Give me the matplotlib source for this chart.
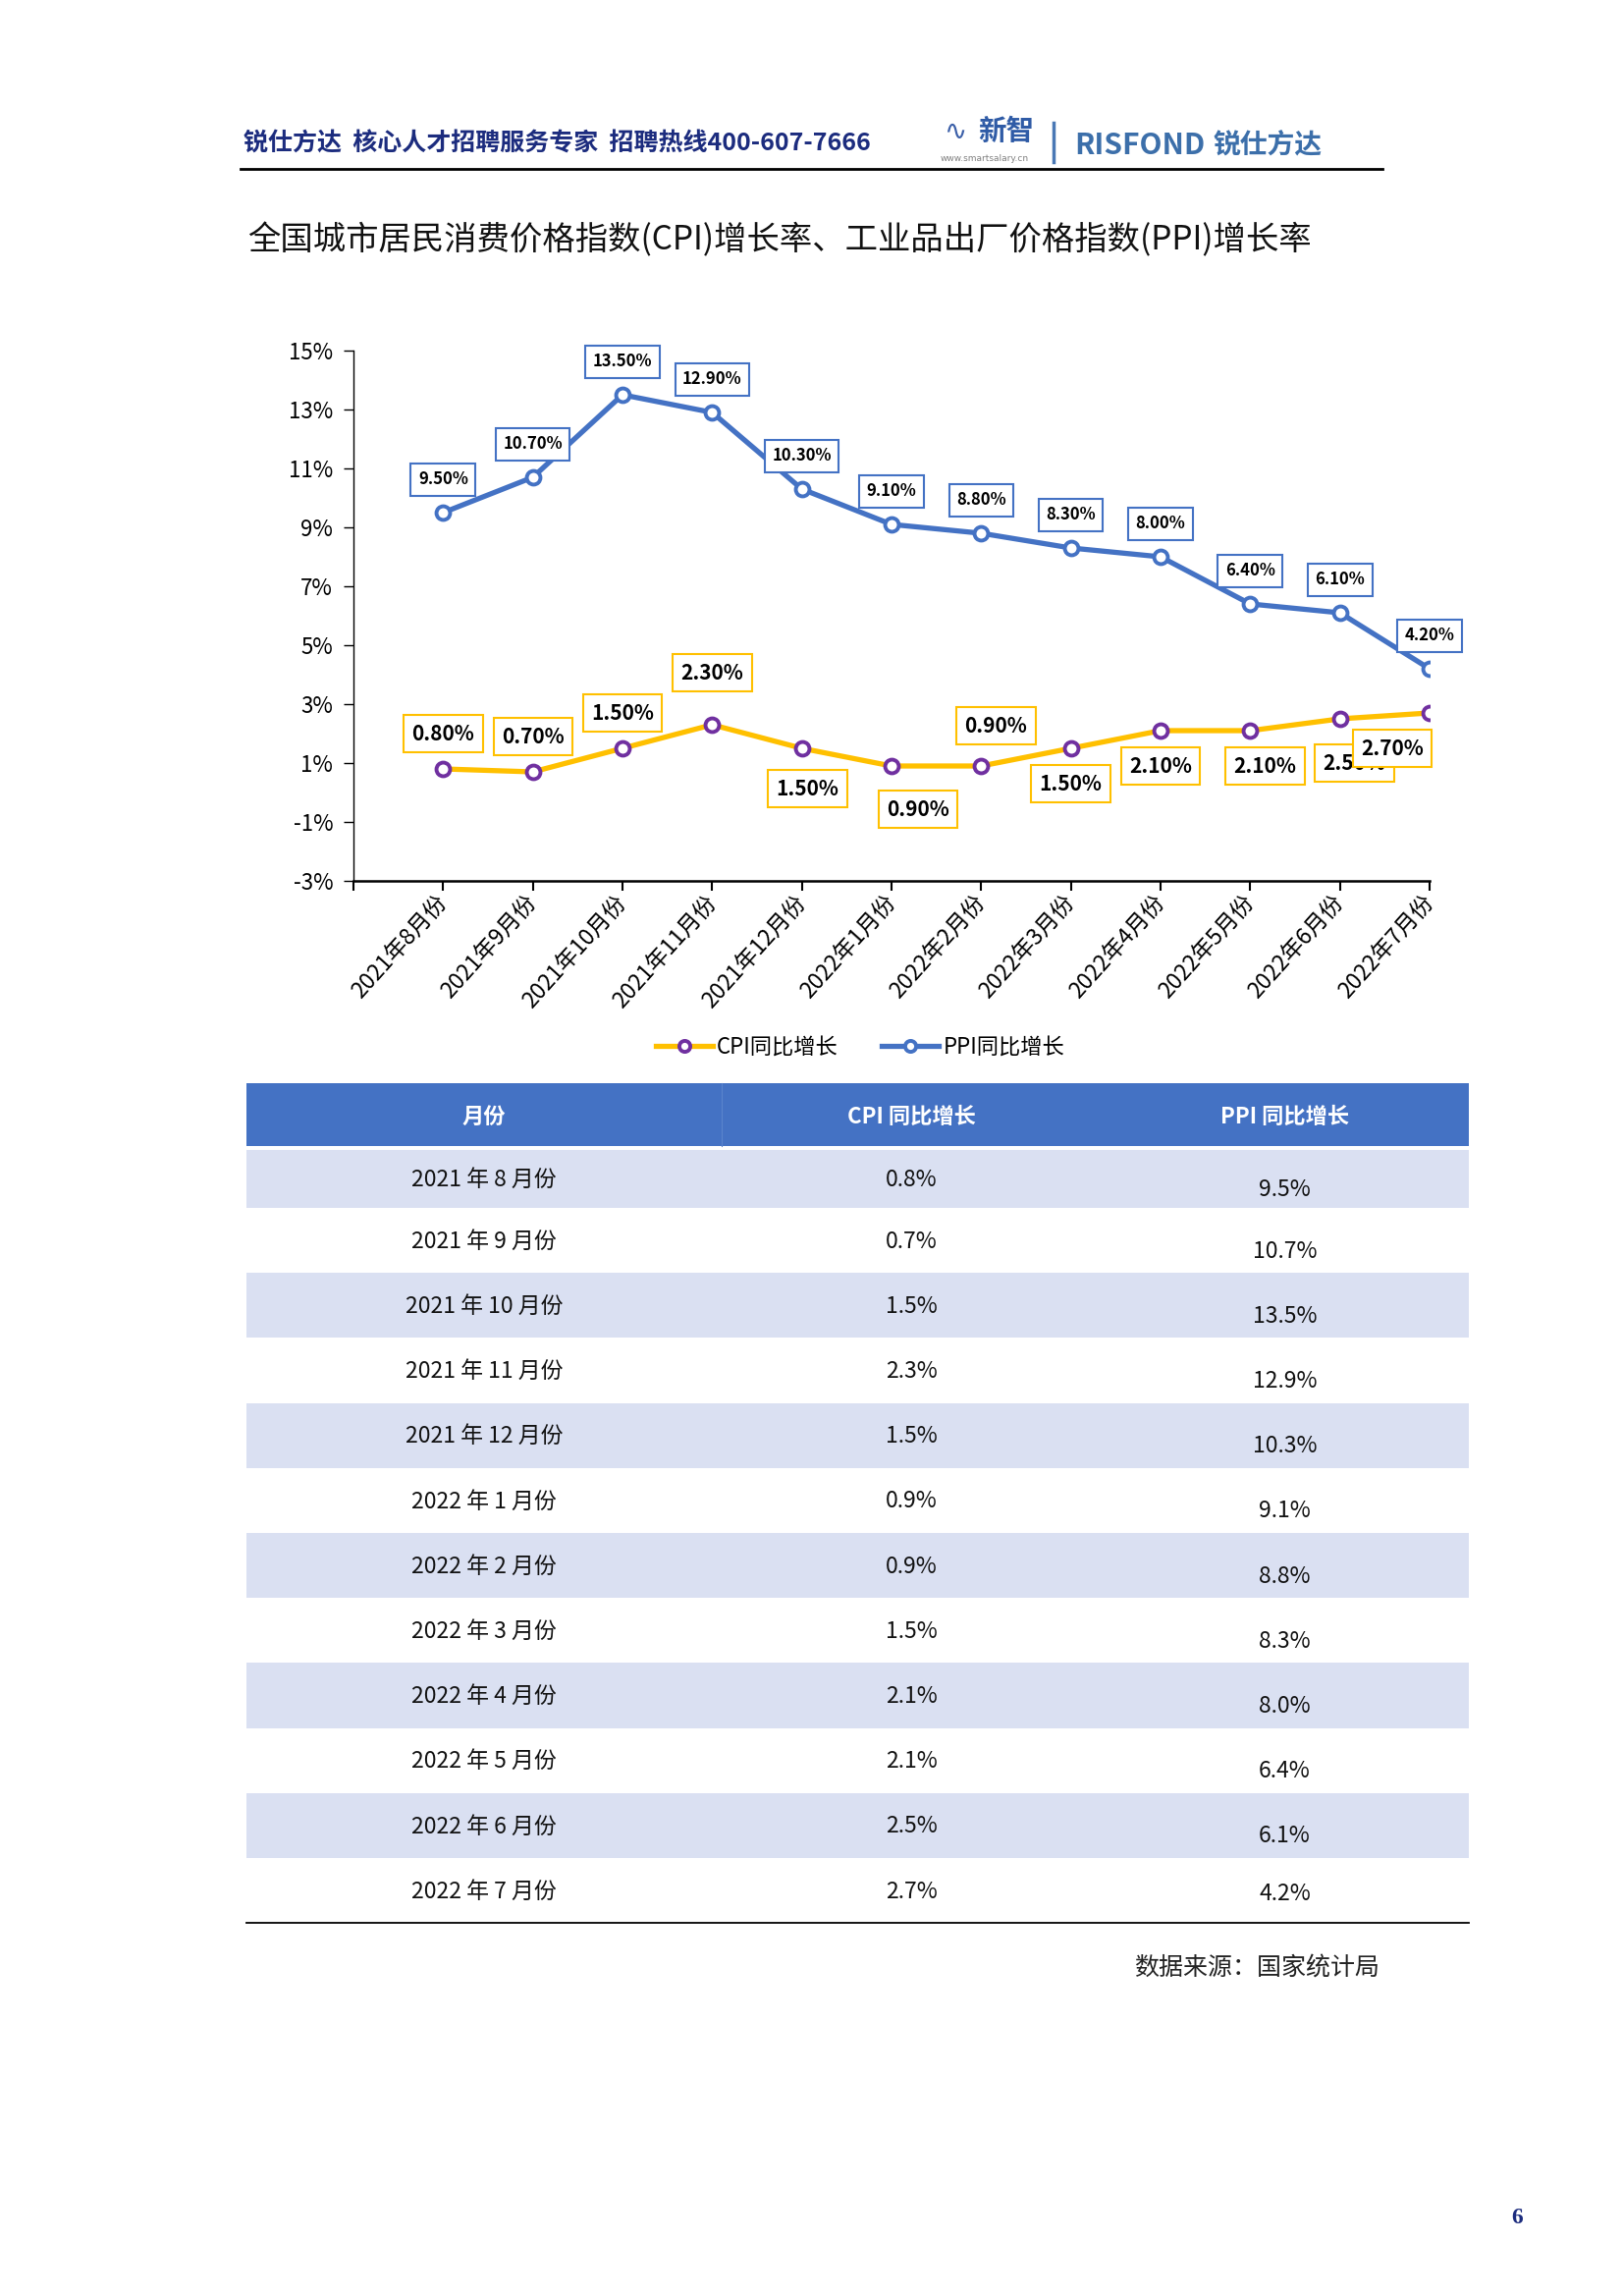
import matplotlib
matplotlib.use("Agg")
import matplotlib.pyplot as plt
from matplotlib.lines import Line2D
from matplotlib.patches import Rectangle

plt.rcParams['font.family'] = ['Noto Sans CJK SC', 'DejaVu Sans']

# ---------------- data ----------------
months = ['2021年8月份', '2021年9月份', '2021年10月份', '2021年11月份', '2021年12月份',
          '2022年1月份', '2022年2月份', '2022年3月份', '2022年4月份', '2022年5月份',
          '2022年6月份', '2022年7月份']
cpi = [0.8, 0.7, 1.5, 2.3, 1.5, 0.9, 0.9, 1.5, 2.1, 2.1, 2.5, 2.7]
ppi = [9.5, 10.7, 13.5, 12.9, 10.3, 9.1, 8.8, 8.3, 8.0, 6.4, 6.1, 4.2]
yticks = [-3, -1, 1, 3, 5, 7, 9, 11, 13, 15]
series_names = ['CPI同比增长', 'PPI同比增长']
table_header = ['月份', 'CPI 同比增长', 'PPI 同比增长']

title = '全国城市居民消费价格指数(CPI)增长率、工业品出厂价格指数(PPI)增长率'
header_text = '锐仕方达  核心人才招聘服务专家  招聘热线400-607-7666'
source_text = '数据来源：国家统计局'

# label offsets (pixels) for CPI data labels: layout only
cpi_label_offsets = [(0, 36), (0, 36), (0, 36), (0, 53), (6, -41), (27, -44),
                     (15, 41), (0, -36), (0, -36), (15, -36), (15, -45), (-38, -36)]

# ---------------- style ----------------
W, H = 1653, 2338
BLUE = '#4472C4'
GOLD = '#FFC000'
PURPLE = '#7030A0'
NAVY = '#1C2C7E'
BAND = '#DAE0F2'

fig = plt.figure(figsize=(W / 100, H / 100), dpi=100)
fig.patch.set_facecolor('white')

# page overlay in pixel coordinates
page = fig.add_axes([0, 0, 1, 1], zorder=0)
page.set_xlim(0, W)
page.set_ylim(H, 0)
page.axis('off')
page.patch.set_alpha(0)

# header
page.text(248, 146, header_text, fontsize=18, fontweight='bold', color=NAVY,
          ha='left', va='center')
page.text(973, 134, '∿', fontsize=20, color='#3B5FA8', ha='center', va='center',
          family=['DejaVu Sans'])
page.text(996, 134, '新智', fontsize=20.5, fontweight='bold', color='#2F5BA6',
          ha='left', va='center')
page.text(958, 162, 'www.smartsalary.cn', fontsize=6.5, color='#808080',
          ha='left', va='center', family=['DejaVu Sans'])
page.add_line(Line2D([1073, 1073], [125, 165], color='#4A78B5', lw=2.5))
page.text(1094, 148, 'RISFOND', fontsize=21.5, fontweight='bold', color='#3C6FAA',
          ha='left', va='center')
page.text(1235, 148, '锐仕方达', fontsize=20, fontweight='bold', color='#3C6FAA',
          ha='left', va='center')
page.add_line(Line2D([245, 1408], [172, 172], color='black', lw=2))

# title
page.text(252, 245, title, fontsize=24, color='#111111', ha='left', va='center')

# ---------------- chart ----------------
ax = fig.add_axes([360 / W, 1 - 897 / H, (1456 - 360) / W, (897 - 357) / H], zorder=2)
ax.patch.set_alpha(0)
x = list(range(len(months)))
ax.plot(x, cpi, color=GOLD, lw=3.8, marker='o', ms=10, mfc='white', mec=PURPLE,
        mew=2.8, zorder=3, label=series_names[0])
ax.plot(x, ppi, color=BLUE, lw=3.8, marker='o', ms=10, mfc='white', mec=BLUE,
        mew=2.8, zorder=3, label=series_names[1])

ax.set_xlim(-1, len(months) - 1)
ax.set_ylim(yticks[0], yticks[-1])
ax.set_yticks(yticks)
ax.set_yticklabels([f'{t}%' for t in yticks])
ax.set_xticks(list(range(-1, len(months))))
ax.set_xticklabels([''] + months, rotation=48, ha='right', rotation_mode='anchor',
                   va='center')
for s in ['top', 'right']:
    ax.spines[s].set_visible(False)
ax.spines['left'].set_linewidth(1.0)
ax.spines['bottom'].set_linewidth(1.8)
ax.tick_params(axis='y', direction='out', length=7, width=1.0, labelsize=16, pad=8)
ax.tick_params(axis='x', direction='out', length=7, width=1.5, labelsize=16.5, pad=6)

for i, v in enumerate(ppi):
    ax.annotate(f'{v:.2f}%', (x[i], v), xytext=(0, 34), textcoords='offset pixels',
                ha='center', va='center', fontsize=12, fontweight='bold', color='black',
                bbox=dict(boxstyle='square,pad=0.45', fc='white', ec=BLUE, lw=1.5),
                zorder=5)
for i, v in enumerate(cpi):
    dx, dy = cpi_label_offsets[i]
    ax.annotate(f'{v:.2f}%', (x[i], v), xytext=(dx, dy), textcoords='offset pixels',
                ha='center', va='center', fontsize=15, fontweight='semibold', color='black',
                bbox=dict(boxstyle='square,pad=0.4', fc='white', ec=GOLD, lw=1.5),
                zorder=5)

fig.legend(loc='center', bbox_to_anchor=(876 / W, 1 - 1066 / H), ncol=2, frameon=False,
           fontsize=16, handlelength=2.6, handletextpad=0.2, columnspacing=2.0,
           markerscale=0.8)

# ---------------- table ----------------
cols = [251, 735, 1121, 1496]
centers = [(cols[i] + cols[i + 1]) / 2 for i in range(3)]
head_top, head_bot = 1103, 1167
row0_top, row1_top, row_h = 1171, 1230, 66.2
page.add_patch(Rectangle((cols[0], head_top), cols[-1] - cols[0], head_bot - head_top,
                         fc=BLUE, ec='none', zorder=1))
page.add_line(Line2D([cols[1], cols[1]], [head_top, head_bot], color='#5A84CC', lw=0.8, zorder=2))
for j, h in enumerate(table_header):
    page.text(centers[j], (head_top + head_bot) / 2 + 2, h, fontsize=16, fontweight='bold',
              color='white', ha='center', va='center', zorder=3)

n = len(months)
for i in range(n):
    top = row0_top if i == 0 else row1_top + (i - 1) * row_h
    bot = row1_top + i * row_h
    if i % 2 == 0:
        page.add_patch(Rectangle((cols[0], top), cols[-1] - cols[0], bot - top,
                                 fc=BAND, ec='none', zorder=1))
    cy = (top + bot) / 2 + 1
    label = months[i].replace('年', ' 年 ').replace('月份', ' 月份')
    page.text(centers[0], cy, label, fontsize=16.5, color='#111111', ha='center', va='center', zorder=3)
    page.text(centers[1], cy, f'{cpi[i]:.1f}%', fontsize=16.5, color='#111111', ha='center',
              va='center', zorder=3)
    off = 10 if i < n - 1 else 2
    page.text(centers[2], cy + off, f'{ppi[i]:.1f}%', fontsize=16.5, color='#111111',
              ha='center', va='center', zorder=3)
table_bottom = row1_top + (n - 1) * row_h
page.add_line(Line2D([cols[0], cols[-1]], [table_bottom, table_bottom], color='black', lw=1.3, zorder=3))

# source + page number
page.text(1155, 2004, source_text, fontsize=18, color='#222222', ha='left', va='center')
page.text(1545, 2258, '6', fontsize=17, color=NAVY, ha='center', va='center',
          family=['Liberation Serif'], fontweight='bold')

fig.savefig('out.png', dpi=100)
